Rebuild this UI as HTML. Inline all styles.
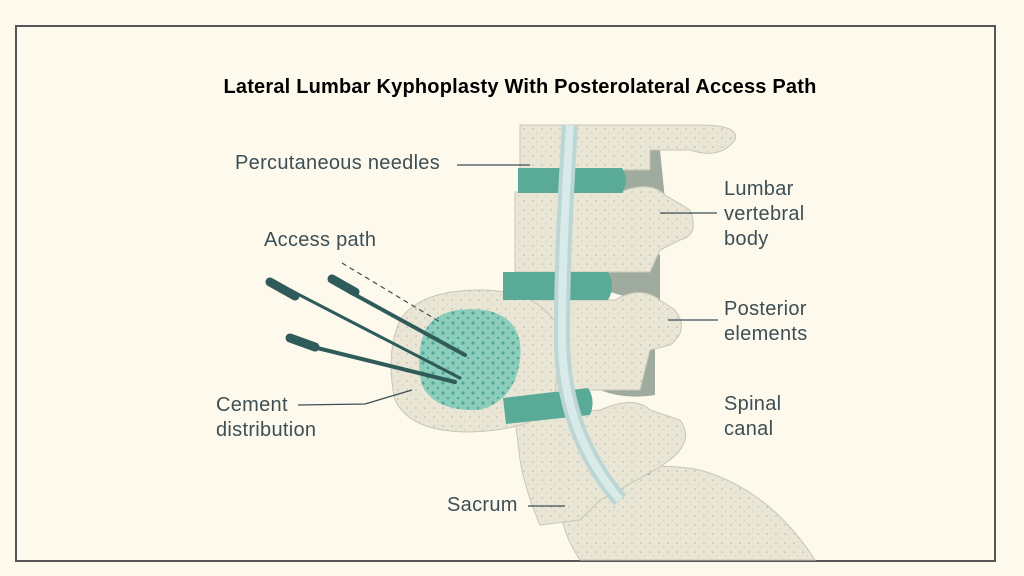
<!DOCTYPE html>
<html><head><meta charset="utf-8"><style>
html,body{margin:0;padding:0;background:#fdf9ec;}
body{width:1024px;height:576px;overflow:hidden;position:relative;font-family:"Liberation Sans",sans-serif;}
.frame{position:absolute;left:15px;top:25px;width:977px;height:533px;border:2px solid #555;background:#fdf9ec;}
.l{position:absolute;color:#3d4f55;font-size:20px;letter-spacing:0.3px;line-height:25px}
</style></head><body>
<div class="frame"></div>
<svg width="1024" height="576" style="position:absolute;left:0;top:0">
<defs>
<pattern id="dots" width="9" height="9" patternUnits="userSpaceOnUse">
<rect width="9" height="9" fill="#e9e6d6"/><circle cx="2" cy="3" r="0.8" fill="#b8b5a3"/><circle cx="6" cy="7" r="0.6" fill="#c6c3b1"/></pattern>
<pattern id="cdots" width="10" height="10" patternUnits="userSpaceOnUse">
<rect width="10" height="10" fill="#8ccdbb"/><circle cx="3" cy="3" r="1.6" fill="#4fa996"/><circle cx="8" cy="8" r="1.2" fill="#4fa996"/></pattern>
</defs>
<path d="M560,500 Q620,455 700,470 Q770,490 815,560 L580,560 Q560,530 560,500Z" fill="url(#dots)" stroke="#c9c6b4"/>
<path d="M600,130 Q640,120 660,150 L665,200 Q640,210 615,195Z" fill="#9fab9f"/>
<path d="M595,240 Q630,230 660,255 L660,300 Q630,300 605,290Z" fill="#9fab9f"/>
<path d="M590,335 Q630,325 655,345 L655,395 Q625,400 600,390Z" fill="#9fab9f"/>
<path d="M600,425 Q640,415 655,440 L650,475 Q625,475 605,460Z" fill="#9fab9f"/>
<path d="M520,125 L700,125 Q740,125 735,140 Q720,160 690,150 L650,150 L650,170 L520,170Z" fill="url(#dots)" stroke="#c9c6b4"/>
<path d="M515,192 L620,192 Q650,180 665,195 L690,210 Q700,235 680,240 L660,250 L650,272 L515,272Z" fill="url(#dots)" stroke="#c9c6b4"/>
<path d="M505,300 L615,300 Q640,285 660,300 L675,310 Q690,330 670,345 L650,350 L640,390 L505,390Z" fill="url(#dots)" stroke="#c9c6b4"/>
<path d="M515,418 L600,410 Q635,395 650,410 L680,420 Q695,440 670,460 L655,470 L600,500 L580,520 L540,525 Q525,490 520,460Z" fill="url(#dots)" stroke="#c9c6b4"/>
<path d="M400,320 Q420,290 480,290 Q540,290 560,330 L555,400 Q540,430 470,432 Q410,432 395,400 Q385,355 400,320Z" fill="url(#dots)" stroke="#c9c6b4"/>
<path d="M425,330 Q440,305 485,310 Q525,318 520,360 Q515,400 480,410 Q435,412 422,385 Q415,355 425,330Z" fill="url(#cdots)"/>
<path d="M518,168 L622,168 Q630,180 622,193 L518,193Z" fill="#5aaa98"/>
<path d="M503,272 L608,272 Q616,286 608,300 L503,300Z" fill="#5aaa98"/>
<path d="M503,398 L588,388 Q596,400 590,415 L506,424Z" fill="#5aaa98"/>
<path d="M570,125 Q562,250 562,330 Q560,430 620,500" fill="none" stroke="#bcd6d6" stroke-width="16"/>
<path d="M570,125 Q562,250 562,330 Q560,430 620,500" fill="none" stroke="#d9ebe9" stroke-width="8"/>
<g stroke="#2f5b5b" stroke-linecap="round">
<line x1="290" y1="290" x2="460" y2="378" stroke-width="3"/>
<line x1="350" y1="292" x2="465" y2="355" stroke-width="4"/>
<line x1="305" y1="345" x2="455" y2="382" stroke-width="4"/>
<line x1="270" y1="282" x2="295" y2="296" stroke-width="9"/>
<line x1="332" y1="279" x2="355" y2="292" stroke-width="9"/>
<line x1="290" y1="338" x2="315" y2="347" stroke-width="9"/>
</g>
<line x1="342" y1="263" x2="440" y2="322" stroke="#3d4f55" stroke-dasharray="5,4" stroke-width="1.2"/>
<g stroke="#3d4f55" stroke-width="1.3" fill="none">
<line x1="457" y1="165" x2="530" y2="165"/>
<polyline points="298,405 365,404 412,390"/>
<line x1="660" y1="213" x2="717" y2="213"/>
<line x1="668" y1="320" x2="718" y2="320"/>
<line x1="528" y1="506" x2="565" y2="506"/>
</g>
</svg>
<div style="position:absolute;left:0;width:1040px;top:76px;text-align:center;font-weight:bold;font-size:20px;letter-spacing:0.2px;color:#000">Lateral Lumbar Kyphoplasty With Posterolateral Access Path</div>
<div class="l" style="left:235px;top:151px">Percutaneous needles</div>
<div class="l" style="left:264px;top:228px">Access path</div>
<div class="l" style="left:216px;top:393px">Cement<br>distribution</div>
<div class="l" style="left:724px;top:177px">Lumbar<br>vertebral<br>body</div>
<div class="l" style="left:724px;top:297px">Posterior<br>elements</div>
<div class="l" style="left:724px;top:392px">Spinal<br>canal</div>
<div class="l" style="left:447px;top:493px">Sacrum</div>
</body></html>
